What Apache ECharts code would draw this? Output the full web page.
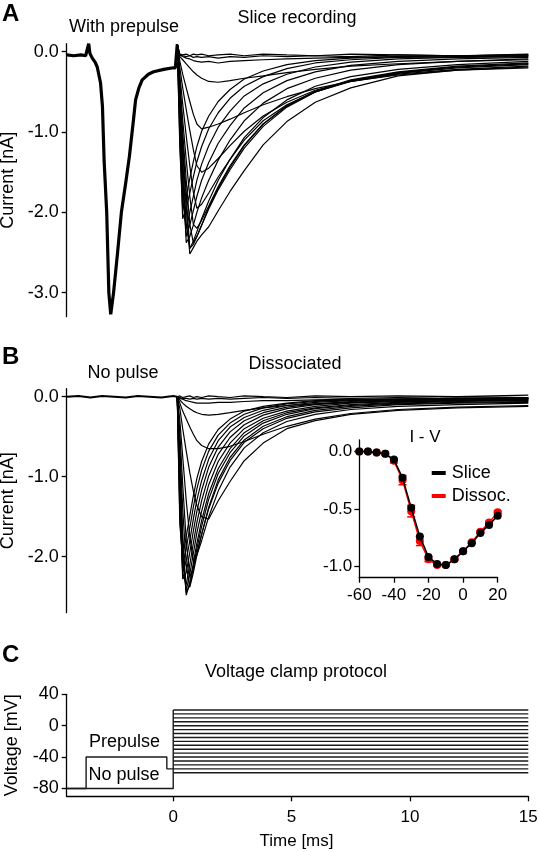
<!DOCTYPE html>
<html><head><meta charset="utf-8">
<script src="https://cdn.jsdelivr.net/npm/echarts@6/dist/echarts.min.js"></script>
<style>html,body{margin:0;padding:0;background:#fff}#c{width:538px;height:852px}</style>
</head><body><div id="c"></div>
<script>
// ---------- DATA ----------
// Sample times (ms) for the test-pulse current traces (panels A and B)
const T = [0.17, 0.28, 0.4, 0.55, 0.7, 0.85, 1.0, 1.2, 1.5, 1.9, 2.4, 3.0, 3.8, 4.8, 6.0, 7.5, 9.5, 12, 15];
// Test potentials (mV)
const testV = [-60, -55, -50, -45, -40, -35, -30, -25, -20, -15, -10, -5, 0, 5, 10, 15, 20];

// Panel A: common prepulse segment (ms, nA)
const prepT = [-4.5, -4.2, -3.9, -3.7, -3.62, -3.57, -3.52, -3.42, -3.3, -3.21, -3.07, -2.99, -2.92, -2.81, -2.72, -2.64, -2.52, -2.35, -2.19, -2.0, -1.85, -1.68, -1.59, -1.45, -1.31, -1.05, -0.83, -0.4, 0.0, 0.09, 0.17];
const prepI = [-0.04, -0.05, -0.04, -0.05, -0.03, 0.1, -0.02, -0.08, -0.13, -0.19, -0.39, -0.68, -1.35, -2.0, -3.0, -3.27, -3.0, -2.5, -2.0, -1.62, -1.3, -0.85, -0.6, -0.45, -0.35, -0.28, -0.25, -0.22, -0.2, -0.2, 0.09];

// Panel A: slice test-pulse currents (nA) at times T
const sliceM60 = [0.09, -0.03, -0.04, -0.03, -0.05, -0.03, -0.04, -0.03, -0.05, -0.04, -0.03, -0.05, -0.03, -0.04, -0.05, -0.03, -0.04, -0.05, -0.03];
const sliceM55 = [0.09, -0.04, -0.05, -0.06, -0.05, -0.07, -0.06, -0.07, -0.06, -0.08, -0.06, -0.07, -0.05, -0.06, -0.05, -0.06, -0.04, -0.05, -0.04];
const sliceM50 = [0.09, -0.04, -0.06, -0.08, -0.09, -0.11, -0.12, -0.13, -0.12, -0.14, -0.12, -0.11, -0.1, -0.09, -0.08, -0.07, -0.06, -0.07, -0.05];
const sliceM45 = [0.09, -0.06, -0.1, -0.15, -0.2, -0.25, -0.29, -0.33, -0.37, -0.38, -0.36, -0.33, -0.3, -0.26, -0.22, -0.18, -0.15, -0.12, -0.1];
const sliceM40 = [0.09, -0.12, -0.28, -0.45, -0.62, -0.78, -0.9, -0.96, -0.94, -0.9, -0.84, -0.76, -0.66, -0.56, -0.46, -0.37, -0.29, -0.23, -0.19];
const sliceM35 = [0.09, -0.2, -0.45, -0.72, -0.98, -1.22, -1.42, -1.5, -1.45, -1.33, -1.17, -0.99, -0.8, -0.63, -0.48, -0.37, -0.28, -0.22, -0.18];
const sliceM30 = [0.09, -0.3, -0.65, -1.05, -1.42, -1.75, -1.95, -1.9, -1.76, -1.56, -1.34, -1.1, -0.86, -0.66, -0.5, -0.37, -0.27, -0.2, -0.16];
const sliceM25 = [0.09, -0.38, -0.85, -1.35, -1.8, -2.15, -2.2, -2.1, -1.92, -1.68, -1.42, -1.16, -0.9, -0.68, -0.5, -0.36, -0.26, -0.19, -0.15];
const sliceM20 = [0.09, -0.45, -1.0, -1.6, -2.15, -2.38, -2.3, -2.16, -1.94, -1.7, -1.44, -1.17, -0.9, -0.67, -0.49, -0.35, -0.25, -0.18, -0.14];
const sliceM15 = [0.09, -0.5, -1.1, -1.8, -2.45, -2.4, -2.3, -2.16, -1.96, -1.72, -1.47, -1.2, -0.93, -0.69, -0.5, -0.36, -0.26, -0.19, -0.15];
const sliceM10 = [0.09, -0.55, -1.2, -1.95, -2.52, -2.44, -2.36, -2.28, -2.18, -1.98, -1.74, -1.48, -1.16, -0.87, -0.63, -0.45, -0.3, -0.23, -0.2];
const sliceM5  = [0.09, -0.6, -1.35, -2.15, -2.45, -2.36, -2.24, -2.08, -1.86, -1.6, -1.34, -1.07, -0.82, -0.6, -0.43, -0.31, -0.22, -0.16, -0.12];
const slice0   = [0.09, -0.7, -1.5, -2.38, -2.3, -2.16, -2.0, -1.82, -1.6, -1.35, -1.1, -0.86, -0.64, -0.46, -0.33, -0.23, -0.16, -0.12, -0.09];
const slice5   = [0.09, -0.8, -1.65, -2.3, -2.16, -1.98, -1.8, -1.6, -1.38, -1.14, -0.92, -0.7, -0.51, -0.36, -0.25, -0.17, -0.12, -0.09, -0.07];
const slice10  = [0.09, -0.95, -1.85, -2.2, -2.0, -1.8, -1.6, -1.4, -1.17, -0.94, -0.74, -0.55, -0.4, -0.28, -0.19, -0.13, -0.09, -0.07, -0.06];
const slice15  = [0.09, -1.1, -2.08, -1.95, -1.76, -1.56, -1.37, -1.18, -0.96, -0.76, -0.58, -0.43, -0.31, -0.21, -0.14, -0.1, -0.07, -0.06, -0.05];
const slice20  = [0.09, -1.2, -1.95, -1.8, -1.58, -1.37, -1.18, -0.99, -0.8, -0.62, -0.47, -0.34, -0.24, -0.16, -0.11, -0.08, -0.06, -0.05, -0.04];

// Panel B: dissociated baseline before the test pulse
const baseT = [-4.5, -4.0, -3.5, -3.0, -2.5, -2.0, -1.5, -1.0, -0.5, 0.0, 0.17];
const baseI = [0.0, 0.01, -0.01, 0.01, 0.0, -0.01, 0.01, 0.0, -0.01, 0.01, 0.0];
// Panel B: dissociated test-pulse currents (nA) at times T
const dissM60 = [0, 0.01, -0.01, 0.0, 0.01, -0.01, 0.0, -0.01, 0.01, 0.0, -0.01, 0.01, 0.0, -0.01, 0.01, 0.0, 0.01, 0.0, 0.02];
const dissM55 = [0, -0.01, -0.02, -0.02, -0.03, -0.02, -0.03, -0.02, -0.03, -0.02, -0.03, -0.02, -0.01, -0.02, -0.01, -0.02, -0.01, 0.0, -0.01];
const dissM50 = [0, -0.02, -0.03, -0.05, -0.06, -0.07, -0.08, -0.08, -0.08, -0.07, -0.07, -0.06, -0.05, -0.05, -0.04, -0.03, -0.03, -0.02, -0.02];
const dissM45 = [0, -0.04, -0.08, -0.12, -0.15, -0.18, -0.2, -0.22, -0.23, -0.22, -0.2, -0.17, -0.14, -0.11, -0.09, -0.07, -0.06, -0.05, -0.04];
const dissM40 = [0, -0.08, -0.18, -0.28, -0.38, -0.47, -0.55, -0.61, -0.65, -0.65, -0.62, -0.56, -0.47, -0.37, -0.28, -0.21, -0.16, -0.13, -0.11];
const dissM35 = [0, -0.15, -0.4, -0.68, -0.95, -1.18, -1.36, -1.5, -1.53, -1.3, -1.06, -0.8, -0.58, -0.4, -0.3, -0.22, -0.17, -0.14, -0.12];
const dissM30 = [0, -0.3, -0.75, -1.3, -1.75, -2.05, -1.98, -1.8, -1.5, -1.18, -0.88, -0.64, -0.45, -0.31, -0.22, -0.16, -0.12, -0.1, -0.08];
const dissM25 = [0, -0.45, -1.1, -1.8, -2.25, -2.15, -1.95, -1.72, -1.4, -1.08, -0.8, -0.57, -0.4, -0.27, -0.19, -0.14, -0.1, -0.08, -0.07];
const dissM20 = [0, -0.6, -1.4, -2.1, -2.38, -2.2, -1.98, -1.72, -1.38, -1.04, -0.76, -0.54, -0.37, -0.25, -0.17, -0.12, -0.09, -0.07, -0.06];
const dissM15 = [0, -0.75, -1.7, -2.45, -2.36, -2.14, -1.9, -1.62, -1.28, -0.96, -0.7, -0.49, -0.33, -0.22, -0.15, -0.11, -0.08, -0.06, -0.05];
const dissM10 = [0, -0.85, -1.9, -2.48, -2.32, -2.08, -1.83, -1.55, -1.21, -0.9, -0.65, -0.45, -0.3, -0.2, -0.14, -0.1, -0.07, -0.05, -0.04];
const dissM5  = [0, -0.95, -2.05, -2.42, -2.22, -1.96, -1.7, -1.43, -1.1, -0.81, -0.58, -0.4, -0.27, -0.18, -0.12, -0.08, -0.06, -0.05, -0.04];
const diss0   = [0, -1.05, -2.2, -2.35, -2.1, -1.83, -1.57, -1.3, -0.99, -0.72, -0.51, -0.35, -0.23, -0.15, -0.1, -0.07, -0.05, -0.04, -0.03];
const diss5   = [0, -1.2, -2.28, -2.2, -1.95, -1.68, -1.43, -1.17, -0.88, -0.63, -0.44, -0.3, -0.2, -0.13, -0.09, -0.06, -0.04, -0.03, -0.02];
const diss10  = [0, -1.35, -2.2, -2.05, -1.8, -1.53, -1.29, -1.05, -0.78, -0.55, -0.38, -0.26, -0.17, -0.11, -0.07, -0.05, -0.04, -0.03, -0.02];
const diss15  = [0, -1.5, -2.1, -1.9, -1.64, -1.38, -1.15, -0.92, -0.68, -0.48, -0.33, -0.22, -0.14, -0.09, -0.06, -0.04, -0.03, -0.02, -0.02];
const diss20  = [0, -1.6, -2.0, -1.75, -1.49, -1.24, -1.02, -0.81, -0.59, -0.41, -0.28, -0.18, -0.12, -0.08, -0.05, -0.04, -0.03, -0.02, -0.01];

// Inset I-V (normalized current) at testV
const ivSlice = [0, 0, -0.01, -0.02, -0.07, -0.23, -0.49, -0.74, -0.92, -0.98, -0.99, -0.94, -0.87, -0.8, -0.71, -0.64, -0.56];
const ivDissoc = [0, 0, -0.01, -0.02, -0.08, -0.25, -0.52, -0.78, -0.94, -0.99, -0.99, -0.94, -0.87, -0.79, -0.7, -0.62, -0.53];
const ivDissocErr = [0, 0, 0, 0.01, 0.02, 0.04, 0.05, 0.04, 0.02, 0.01, 0.01, 0.01, 0.01, 0.01, 0.01, 0.01, 0.01];

// Panel C: voltage protocol (ms, mV)
const noPulseT = [-4.5, 0, 0];
const noPulseV = [-80, -80, 20];
const prepulseT = [-4.5, -3.68, -3.68, -0.27, -0.27, 0];
const prepulseV = [-80, -80, -40, -40, -55, -55];
const stepT = [0, 15];

// Tick labels
const ticksA = [-3, -2, -1, 0];
const ticksB = [-2, -1, 0];
const ticksIVy = [-1, -0.5, 0];
const ticksCy = [-80, -40, 0, 40];
const ticksCx = [0, 5, 10, 15];

// ---------- CHART ----------
const FONT = '"Liberation Sans", Arial, Helvetica, sans-serif';
const sliceTraces = [sliceM60, sliceM55, sliceM50, sliceM45, sliceM40, sliceM35, sliceM30, sliceM25, sliceM20, sliceM15, sliceM10, sliceM5, slice0, slice5, slice10, slice15, slice20];
const dissTraces = [dissM60, dissM55, dissM50, dissM45, dissM40, dissM35, dissM30, dissM25, dissM20, dissM15, dissM10, dissM5, diss0, diss5, diss10, diss15, diss20];

const zip = (xs, ys) => xs.map((x, i) => [x, ys[i]]);
function lineS(data, xi, yi, width, color) {
  return { type: 'line', xAxisIndex: xi, yAxisIndex: yi, data: data, showSymbol: false, symbol: 'none',
    lineStyle: { color: color || '#000', width: width }, silent: true, animation: false, z: 2 };
}
const axisCommon = {
  axisLine: { show: true, onZero: false, lineStyle: { color: '#000', width: 1.3 } },
  axisTick: { show: true, inside: false, length: 5, lineStyle: { color: '#000', width: 1.3 } },
  splitLine: { show: false }
};
function yAxisDef(gi, min, max, ticks, name, fs, digits, gap, margin) {
  return Object.assign({}, axisCommon, {
    type: 'value', gridIndex: gi, min: min, max: max,
    name: name, nameLocation: 'middle', nameGap: gap,
    nameTextStyle: { fontSize: 18, fontFamily: FONT, color: '#000' },
    axisTick: Object.assign({}, axisCommon.axisTick, { customValues: ticks }),
    axisLabel: { customValues: ticks, fontSize: fs, fontFamily: FONT, color: '#000', margin: margin,
      formatter: v => digits ? Number(v).toFixed(digits) : String(v) }
  });
}

const series = [];
// Panel A
series.push(lineS(zip(prepT, prepI), 0, 0, 3.2));
sliceTraces.forEach(tr => series.push(lineS(zip(T, tr), 0, 0, 1.2)));
// Panel B
series.push(lineS(zip(baseT, baseI), 1, 1, 2));
dissTraces.forEach(tr => series.push(lineS(zip(T, tr), 1, 1, 1.2)));
// Inset
series.push({ type: 'custom', name: 'err', xAxisIndex: 2, yAxisIndex: 2, silent: true, animation: false, z: 3,
  data: testV.map((v, i) => [v, ivDissoc[i] - ivDissocErr[i], ivDissoc[i] + ivDissocErr[i]]),
  renderItem: function (params, api) {
    const lo = api.coord([api.value(0), api.value(1)]);
    const hi = api.coord([api.value(0), api.value(2)]);
    const w = 4;
    const st = { stroke: '#ff0000', lineWidth: 1.5 };
    return { type: 'group', children: [
      { type: 'line', shape: { x1: lo[0], y1: lo[1], x2: hi[0], y2: hi[1] }, style: st },
      { type: 'line', shape: { x1: lo[0] - w, y1: lo[1], x2: lo[0] + w, y2: lo[1] }, style: st },
      { type: 'line', shape: { x1: hi[0] - w, y1: hi[1], x2: hi[0] + w, y2: hi[1] }, style: st }
    ]};
  }
});
series.push({ type: 'line', name: 'Dissoc.', xAxisIndex: 2, yAxisIndex: 2, data: zip(testV, ivDissoc),
  symbol: 'circle', symbolSize: 8, showSymbol: true, itemStyle: { color: '#ff0000' },
  lineStyle: { color: '#ff0000', width: 1.5 }, silent: true, animation: false, z: 4 });
series.push({ type: 'line', name: 'Slice', xAxisIndex: 2, yAxisIndex: 2, data: zip(testV, ivSlice),
  symbol: 'circle', symbolSize: 8, showSymbol: true, itemStyle: { color: '#000' },
  lineStyle: { color: '#000', width: 1.5 }, silent: true, animation: false, z: 5 });
// Panel C
series.push(lineS(zip(noPulseT, noPulseV), 3, 3, 1.4, '#1a1a1a'));
series.push(lineS(zip(prepulseT, prepulseV), 3, 3, 1.4, '#1a1a1a'));
testV.forEach(v => series.push(lineS(zip(stepT, [v, v]), 3, 3, 1.4, '#1a1a1a')));

function txt(str, x, y, size, align, bold) {
  return { type: 'text', x: x, y: y, silent: true, z: 10,
    style: { text: str, fill: '#000', fontSize: size, fontFamily: FONT, fontWeight: bold ? 'bold' : 'normal',
      align: align || 'center', verticalAlign: 'middle', textAlign: align || 'center', textVerticalAlign: 'middle' } };
}

const L = 66.7, R = 538 - 528.3;
const option = {
  backgroundColor: '#fff',
  animation: false,
  grid: [
    { left: L, right: R, top: 43.7, height: 273, containLabel: false, outerBoundsMode: 'none' },
    { left: L, right: R, top: 388.7, height: 224, containLabel: false, outerBoundsMode: 'none' },
    { left: 359.3, width: 138.4, top: 440, height: 137.7, containLabel: false, outerBoundsMode: 'none' },
    { left: L, right: R, top: 694.3, height: 102, containLabel: false, outerBoundsMode: 'none' }
  ],
  xAxis: [
    { type: 'value', gridIndex: 0, min: -4.5, max: 15, show: false },
    { type: 'value', gridIndex: 1, min: -4.5, max: 15, show: false },
    Object.assign({}, axisCommon, { type: 'value', gridIndex: 2, min: -60, max: 20, interval: 20,
      axisLabel: { fontSize: 17, fontFamily: FONT, color: '#000', margin: 9 } }),
    Object.assign({}, axisCommon, { type: 'value', gridIndex: 3, min: -4.5, max: 15,
      axisTick: Object.assign({}, axisCommon.axisTick, { customValues: ticksCx }),
      axisLabel: { customValues: ticksCx, fontSize: 17, fontFamily: FONT, color: '#000', margin: 13 } })
  ],
  yAxis: [
    yAxisDef(0, -3.3, 0.1, ticksA, 'Current [nA]', 18, 1, 46, 8),
    yAxisDef(1, -2.7, 0.1, ticksB, 'Current [nA]', 18, 1, 46, 8),
    yAxisDef(2, -1.1, 0.1, ticksIVy, '', 17, 1, 30, 7),
    yAxisDef(3, -90, 40, ticksCy, 'Voltage [mV]', 18, 0, 46, 8)
  ],
  legend: {
    data: ['Slice', 'Dissoc.'], orient: 'vertical', left: 426.7, top: 459, icon: 'rect',
    itemWidth: 14, itemHeight: 4, itemGap: 5, selectedMode: false,
    textStyle: { fontSize: 18, fontFamily: FONT, color: '#000', padding: [0, 0, 0, 1] }
  },
  graphic: [
    txt('A', 2, 14, 24, 'left', true),
    txt('With prepulse', 124, 27, 18),
    txt('Slice recording', 297, 18.5, 18),
    txt('B', 2, 357, 24, 'left', true),
    txt('No pulse', 123, 373.5, 18),
    txt('Dissociated', 295, 364.5, 18),
    txt('I - V', 425, 437, 17),
    txt('C', 2, 655, 24, 'left', true),
    txt('Voltage clamp protocol', 296, 672, 18),
    txt('Prepulse', 124.5, 742, 18),
    txt('No pulse', 124, 775, 18),
    txt('Time [ms]', 296.5, 841, 17)
  ],
  series: series
};
const chart = echarts.init(document.getElementById('c'), null, { renderer: 'canvas' });
chart.setOption(option);
</script></body></html>
